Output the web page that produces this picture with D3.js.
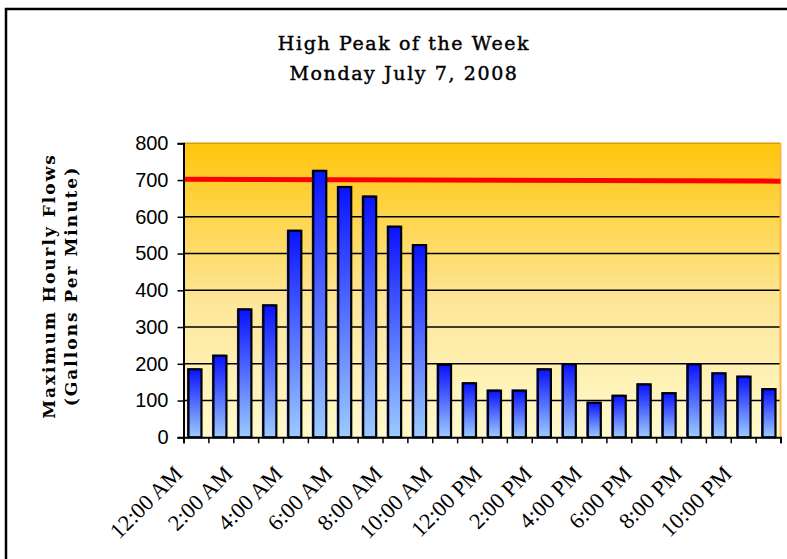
<html>
<head>
<script src="https://cdnjs.cloudflare.com/ajax/libs/d3/7.8.5/d3.min.js"></script>
<style>
  body { margin: 0; background: #fff; }
</style>
</head>
<body>
<script>
  // data
  var hours = ["12:00 AM", "1:00 AM", "2:00 AM", "3:00 AM", "4:00 AM", "5:00 AM",
               "6:00 AM", "7:00 AM", "8:00 AM", "9:00 AM", "10:00 AM", "11:00 AM",
               "12:00 PM", "1:00 PM", "2:00 PM", "3:00 PM", "4:00 PM", "5:00 PM",
               "6:00 PM", "7:00 PM", "8:00 PM", "9:00 PM", "10:00 PM", "11:00 PM"];
  var flows = [185, 222, 348, 359, 562, 725, 681, 655, 573, 523, 197, 147,
               127, 127, 185, 199, 94, 113, 144, 120, 199, 174, 165, 131];
  var limitLine = [702, 697];   // red line, value at left and right edge
  var yTicks = [0, 100, 200, 300, 400, 500, 600, 700, 800];

  var viz = { "width": 787, "height": 559 };
  var plot = { "left": 183.5, "right": 780.5, "top": 143.3, "bottom": 437.3 };

  var svg = d3.select("body").append("svg")
              .attr("width", viz.width)
              .attr("height", viz.height);

  var defs = svg.append("defs");
  var bg = defs.append("linearGradient").attr("id", "bg")
               .attr("x1", 0).attr("y1", 0).attr("x2", 0).attr("y2", 1);
  bg.append("stop").attr("offset", "0%").attr("stop-color", "#ffc60c");
  bg.append("stop").attr("offset", "55%").attr("stop-color", "#fde79a");
  bg.append("stop").attr("offset", "100%").attr("stop-color", "#fffacb");

  var barGrad = defs.append("linearGradient").attr("id", "bar")
               .attr("x1", 0).attr("y1", 0).attr("x2", 0).attr("y2", 1);
  barGrad.append("stop").attr("offset", "0%").attr("stop-color", "#0a12ff");
  barGrad.append("stop").attr("offset", "100%").attr("stop-color", "#9ccbff");

  // outer frame of the chart
  svg.append("rect")
     .attr("x", 6).attr("y", 9)
     .attr("width", 900).attr("height", 700)
     .attr("fill", "none")
     .attr("stroke", "black")
     .attr("stroke-width", 2.5);

  var x = d3.scaleBand().domain(hours)
            .range([plot.left, plot.right])
            .paddingInner(0.48).paddingOuter(0.2);
  var xEdge = d3.scaleLinear().domain([0, hours.length]).range([plot.left, plot.right]);
  var y = d3.scaleLinear().domain([0, 800]).range([plot.bottom, plot.top]);

  // plot background
  svg.append("rect")
     .attr("x", plot.left).attr("y", plot.top)
     .attr("width", plot.right - plot.left)
     .attr("height", plot.bottom - plot.top)
     .attr("fill", "url(#bg)");

  // gridlines
  svg.append("g").selectAll("line")
     .data(yTicks.filter(function(d) { return d > 0 && d < 800; }))
     .enter().append("line")
     .attr("x1", plot.left).attr("x2", plot.right)
     .attr("y1", function(d) { return y(d); })
     .attr("y2", function(d) { return y(d); })
     .attr("stroke", "black")
     .attr("stroke-width", 1.5);

  // top / right border of plot area
  svg.append("line")
     .attr("x1", plot.left).attr("x2", plot.right)
     .attr("y1", plot.top).attr("y2", plot.top)
     .attr("stroke", "#d99a00").attr("stroke-width", 1.5);
  svg.append("line")
     .attr("x1", plot.right).attr("x2", plot.right)
     .attr("y1", plot.top).attr("y2", plot.bottom)
     .attr("stroke", "#ffb347").attr("stroke-width", 2);

  // red limit line (behind the bars)
  var limitX = d3.scaleLinear().domain([0, limitLine.length - 1]).range([plot.left, plot.right]);
  svg.append("path")
     .datum(limitLine)
     .attr("d", d3.line()
                  .x(function(d, i) { return limitX(i); })
                  .y(function(d) { return y(d); }))
     .attr("fill", "none")
     .attr("stroke", "#ff0000")
     .attr("stroke-width", 5);

  // bars: thin blue edge, then outlined gradient bar
  var bars = svg.append("g");
  bars.selectAll("rect.edge")
      .data(flows).enter().append("rect")
      .attr("class", "edge")
      .attr("x", function(d, i) { return x(hours[i]) - 1.5; })
      .attr("y", function(d) { return y(d) - 1; })
      .attr("width", x.bandwidth())
      .attr("height", function(d) { return y(0) - y(d); })
      .attr("fill", "#1a2cff");
  bars.selectAll("rect.bar")
      .data(flows).enter().append("rect")
      .attr("class", "bar")
      .attr("x", function(d, i) { return x(hours[i]); })
      .attr("y", function(d) { return y(d); })
      .attr("width", x.bandwidth())
      .attr("height", function(d) { return y(0) - y(d); })
      .attr("fill", "url(#bar)")
      .attr("stroke", "black")
      .attr("stroke-width", 2.2);

  // y axis
  var yAxis = svg.append("g")
     .attr("transform", "translate(" + plot.left + ",0)")
     .call(d3.axisLeft(y).tickValues(yTicks).tickSize(6).tickPadding(9));
  yAxis.select(".domain").attr("stroke-width", 2);
  yAxis.selectAll(".tick line").attr("stroke-width", 1.5);
  yAxis.selectAll("text")
       .attr("font-family", "Liberation Sans, Arial, sans-serif")
       .attr("font-size", "20px")
       .attr("fill", "black");

  // x axis ticks on category boundaries
  var xAxis = svg.append("g")
     .attr("transform", "translate(0," + plot.bottom + ")")
     .call(d3.axisBottom(xEdge).tickValues(d3.range(hours.length + 1))
             .tickSize(6).tickFormat(""));
  xAxis.select(".domain").attr("stroke-width", 2);
  xAxis.selectAll(".tick line").attr("stroke-width", 1.5);

  // rotated labels, every second hour
  svg.append("g").selectAll("text")
     .data(hours.filter(function(d, i) { return i % 2 === 0; }))
     .enter().append("text")
     .attr("transform", function(d) {
        return "translate(" + (x(d) + x.bandwidth() / 2 - 11) + ",475) rotate(-45)";
     })
     .attr("text-anchor", "end")
     .attr("font-family", "Liberation Serif, Times New Roman, serif")
     .attr("font-size", "22.5px")
     .text(function(d) { return d; });

  // title
  var title = svg.append("text")
     .attr("text-anchor", "middle")
     .attr("font-family", "DejaVu Serif, serif")
     .attr("font-size", "19px")
     .attr("letter-spacing", "1.6px")
     .attr("stroke", "black")
     .attr("stroke-width", 0.45);
  title.append("tspan").attr("x", 404).attr("y", 50).text("High Peak of the Week");
  title.append("tspan").attr("x", 404).attr("y", 80).text("Monday July 7, 2008");

  // y axis title
  var yTitle = svg.append("text")
     .attr("transform", "translate(0,286) rotate(-90)")
     .attr("text-anchor", "middle")
     .attr("font-family", "DejaVu Serif, serif")
     .attr("font-weight", "bold")
     .attr("font-size", "17px")
     .attr("letter-spacing", "2px");
  yTitle.append("tspan").attr("x", 0).attr("y", 55).text("Maximum Hourly Flows");
  yTitle.append("tspan").attr("x", 0).attr("y", 77).text("(Gallons Per Minute)");
</script>
</body>
</html>
